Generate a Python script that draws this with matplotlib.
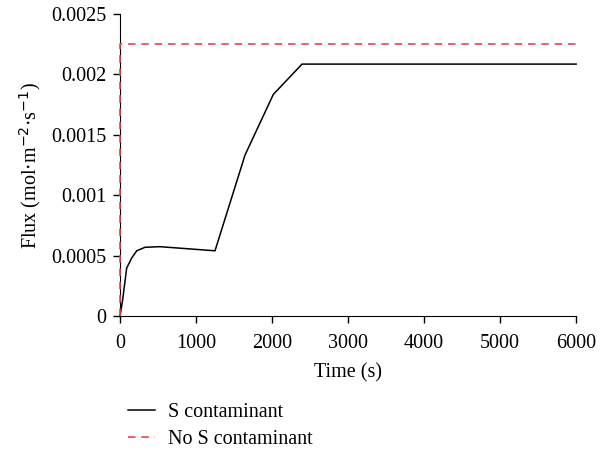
import matplotlib.pyplot as plt

# flux vs time, with and without S contaminant
t_s = [0, 35, 88, 154, 220, 330, 526, 1250, 1645, 2017, 2395, 6000]
flux_s = [0, 0.000132, 0.000397, 0.00048, 0.00054, 0.000569, 0.000574,
          0.00054, 0.001333, 0.001835, 0.002086, 0.002086]

t_no_s = [0, 0, 6000]
flux_no_s = [0, 0.00225, 0.00225]

plt.rcParams['font.family'] = ['Liberation Serif', 'DejaVu Serif']
plt.rcParams['font.size'] = 14.5

fig = plt.figure(figsize=(6.09, 4.55), dpi=100)
ax = fig.add_axes([0.197, 0.3055, 0.749, 0.6635])

ax.plot(t_s, flux_s, color='black', lw=1.1, label='S contaminant',
        clip_on=False, zorder=4)
ax.plot(t_no_s, flux_no_s, color='#e8474c', lw=1.2, ls=(0, (4.5, 3.5)),
        label='No S contaminant', clip_on=False, zorder=5)

ax.set_xlim(0, 6000)
ax.set_ylim(0, 0.0025)
ax.set_xticks(range(0, 6001, 1000))
ax.set_yticks([0, 0.0005, 0.001, 0.0015, 0.002, 0.0025])
ax.set_yticklabels(['0', '0.0005', '0.001', '0.0015', '0.002', '0.0025'])
ax.spines['top'].set_visible(False)
ax.spines['right'].set_visible(False)
ax.tick_params(direction='out', length=5, width=1, pad=5)
ax.tick_params(axis='x', pad=8)
ax.set_xlabel('Time (s)', labelpad=7)
ax.set_ylabel('Flux (mol$\\cdot$m$^{-2}$$\\cdot$s$^{-1}$)', labelpad=6)

ax.legend(loc='upper left', bbox_to_anchor=(0.0, -0.26), frameon=False,
          handlelength=1.35, handletextpad=0.65, labelspacing=0.42,
          borderaxespad=0)

fig.savefig('out.png', dpi=100)
